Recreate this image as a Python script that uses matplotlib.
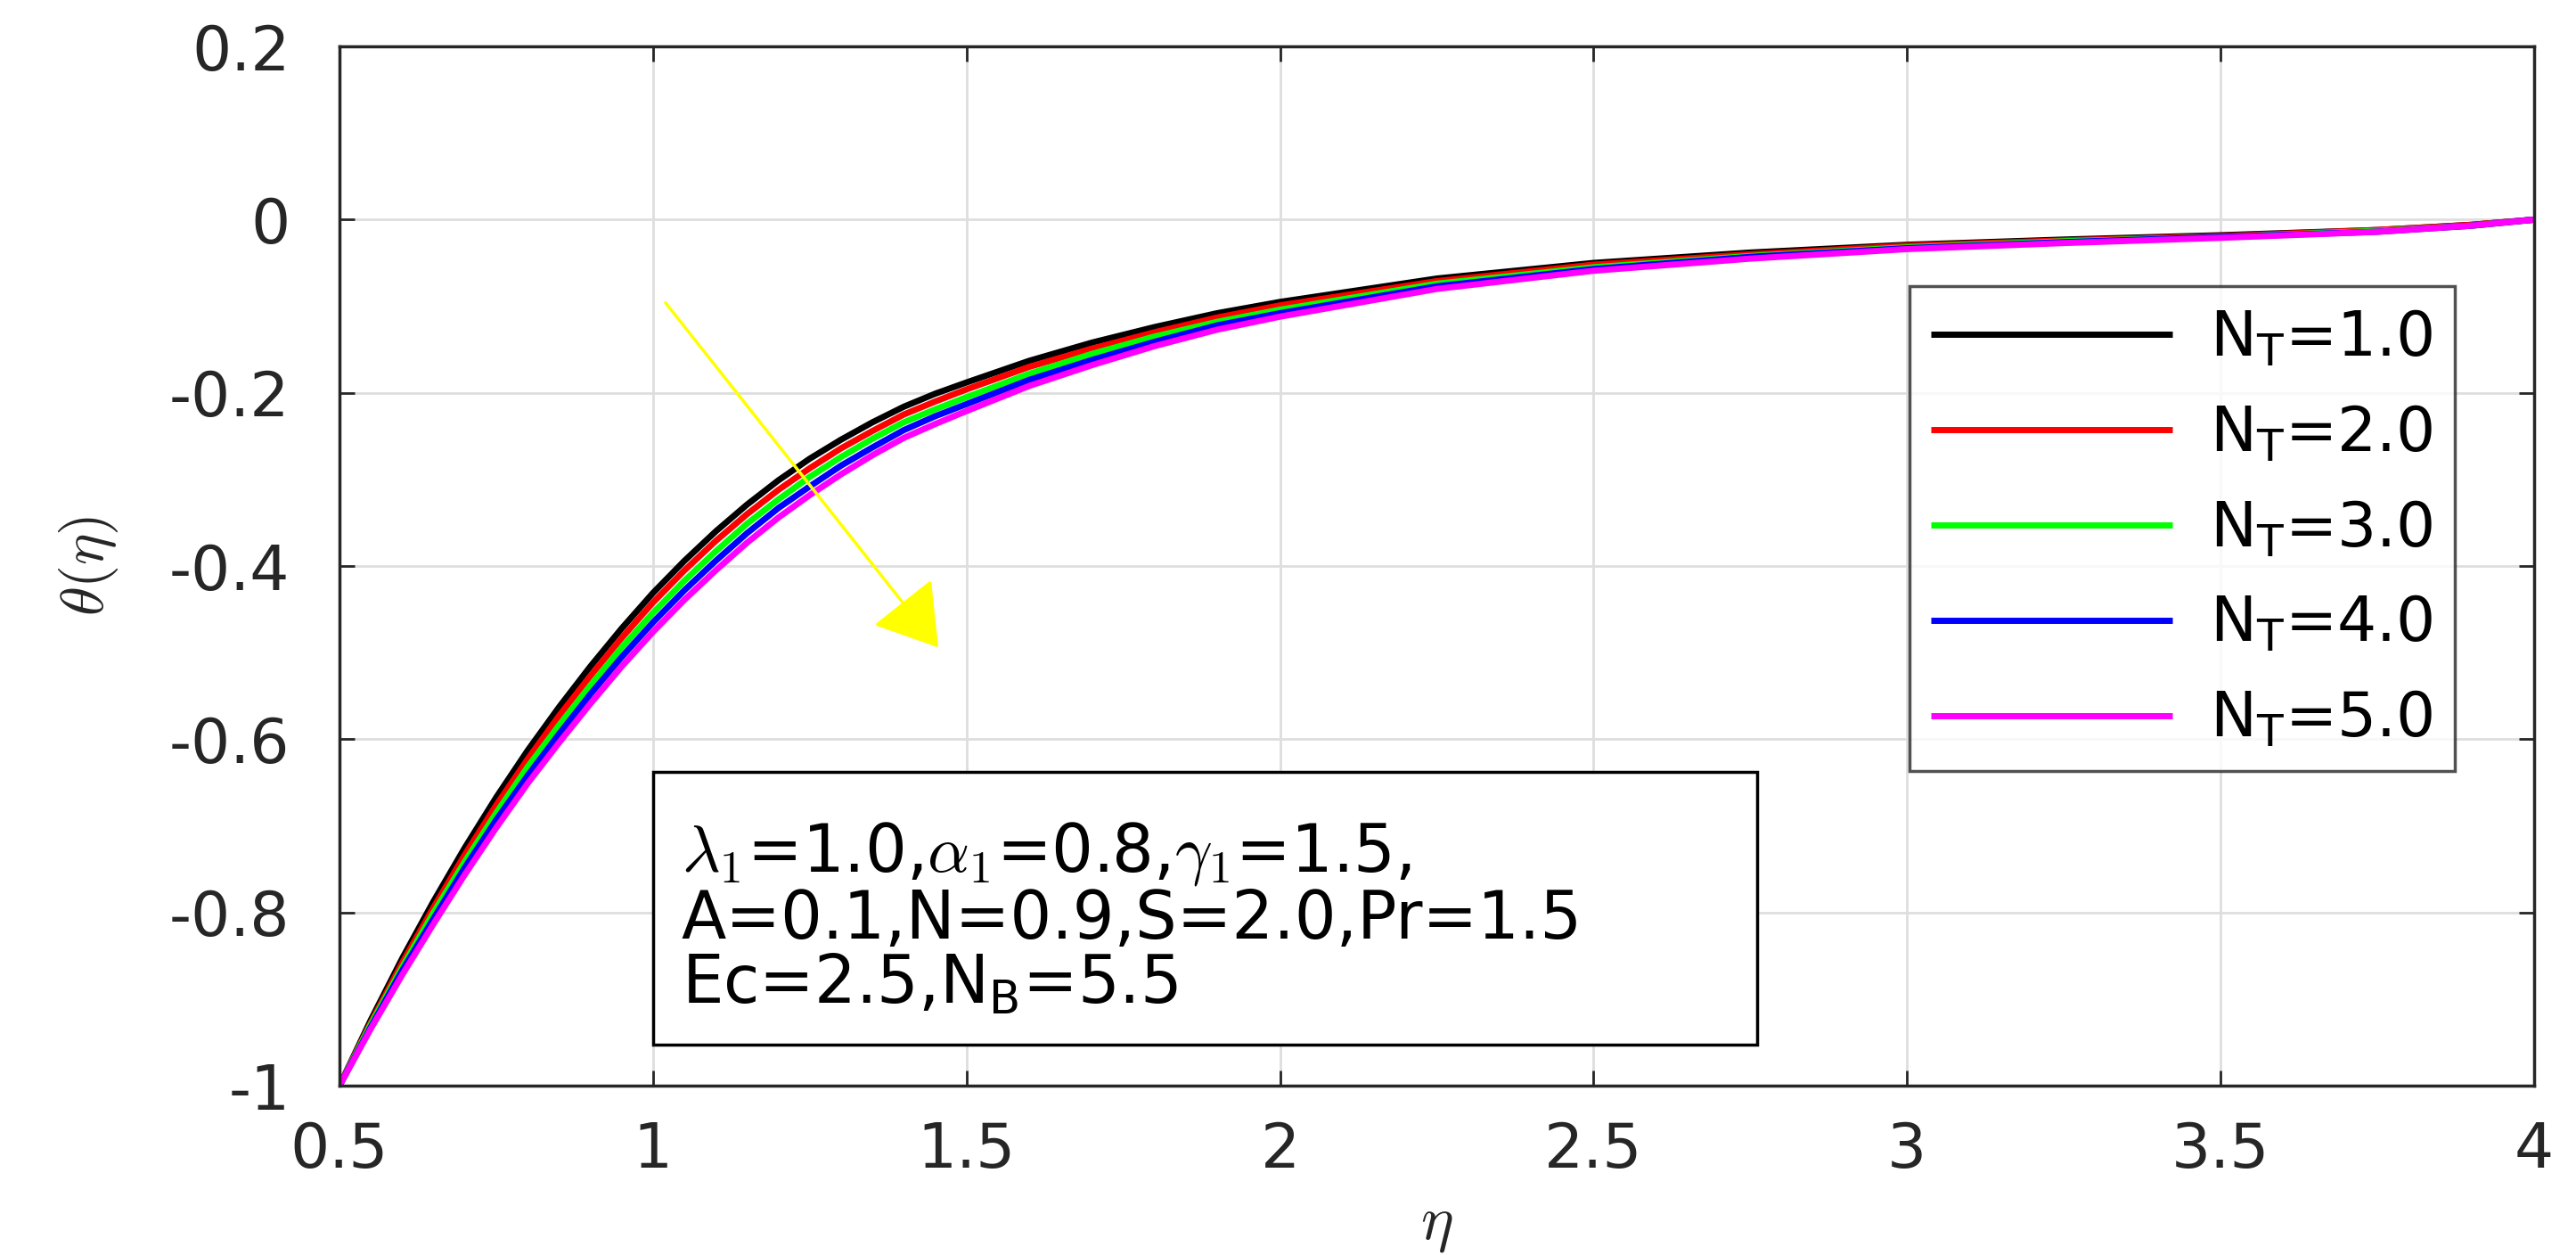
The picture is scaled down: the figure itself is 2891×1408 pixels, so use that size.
import matplotlib
matplotlib.use("Agg")
import matplotlib.pyplot as plt
from matplotlib.patches import Rectangle
from matplotlib.ticker import FormatStrFormatter

plt.rcParams['font.family'] = ['DejaVu Sans']
plt.rcParams['axes.unicode_minus'] = False

# eta positions
eta = [0.5, 0.55, 0.6, 0.65, 0.7, 0.75, 0.8, 0.85, 0.9, 0.95, 1.0, 1.05, 1.1, 1.15,
       1.2, 1.25, 1.3, 1.35, 1.4, 1.45, 1.5, 1.6, 1.7, 1.8, 1.9, 2.0, 2.25, 2.5,
       2.75, 3.0, 3.25, 3.5, 3.75, 3.9, 4.0]

theta_nt1 = [-1.000, -0.924, -0.853, -0.787, -0.725, -0.667, -0.613, -0.563, -0.516,
             -0.472, -0.431, -0.394, -0.360, -0.329, -0.301, -0.276, -0.254, -0.234,
             -0.216, -0.201, -0.188, -0.163, -0.142, -0.124, -0.108, -0.095, -0.068,
             -0.050, -0.038, -0.029, -0.023, -0.018, -0.012, -0.006, 0.000]
theta_nt2 = [-1.000, -0.927, -0.858, -0.794, -0.733, -0.676, -0.623, -0.573, -0.527,
             -0.483, -0.442, -0.405, -0.371, -0.340, -0.312, -0.287, -0.264, -0.244,
             -0.225, -0.210, -0.196, -0.170, -0.149, -0.130, -0.113, -0.099, -0.071,
             -0.052, -0.040, -0.030, -0.024, -0.019, -0.012, -0.006, 0.000]
theta_nt3 = [-1.000, -0.929, -0.863, -0.800, -0.741, -0.685, -0.632, -0.584, -0.538,
             -0.494, -0.454, -0.417, -0.383, -0.351, -0.323, -0.297, -0.274, -0.253,
             -0.234, -0.219, -0.205, -0.178, -0.155, -0.135, -0.118, -0.104, -0.074,
             -0.055, -0.042, -0.032, -0.025, -0.020, -0.013, -0.007, 0.000]
theta_nt4 = [-1.000, -0.932, -0.867, -0.807, -0.748, -0.693, -0.642, -0.594, -0.548,
             -0.505, -0.465, -0.428, -0.394, -0.362, -0.333, -0.308, -0.284, -0.263,
             -0.243, -0.227, -0.213, -0.185, -0.162, -0.141, -0.122, -0.108, -0.077,
             -0.057, -0.043, -0.033, -0.026, -0.020, -0.014, -0.007, 0.000]
theta_nt5 = [-1.000, -0.934, -0.872, -0.813, -0.756, -0.702, -0.651, -0.604, -0.559,
             -0.516, -0.476, -0.439, -0.405, -0.373, -0.344, -0.318, -0.294, -0.272,
             -0.252, -0.236, -0.221, -0.192, -0.168, -0.146, -0.127, -0.112, -0.080,
             -0.059, -0.045, -0.034, -0.027, -0.021, -0.014, -0.007, 0.000]

series = [theta_nt1, theta_nt2, theta_nt3, theta_nt4, theta_nt5]
labels = [r'N$_\mathregular{T}$=1.0', r'N$_\mathregular{T}$=2.0', r'N$_\mathregular{T}$=3.0',
          r'N$_\mathregular{T}$=4.0', r'N$_\mathregular{T}$=5.0']
colors = ['#000000', '#ff0000', '#00ff00', '#0000ff', '#ff00ff']

x_ticks = [0.5, 1, 1.5, 2, 2.5, 3, 3.5, 4]
y_ticks = [0.2, 0, -0.2, -0.4, -0.6, -0.8, -1]

box_lines = [r'$\lambda_1$=1.0,$\alpha_1$=0.8,$\gamma_1$=1.5,',
             'A=0.1,N=0.9,S=2.0,Pr=1.5',
             r'Ec=2.5,N$_\mathregular{B}$=5.5']

FS = 50
edge = '#262626'

fig = plt.figure(figsize=(28.91, 14.08), dpi=100)
ax = fig.add_axes([0.1318, 0.1349, 0.8519, 0.8281])

for vals, lab, col in zip(series, labels, colors):
    ax.plot(eta, vals, color=col, lw=5, label=lab, solid_capstyle='butt')

ax.set_xlim(0.5, 4)
ax.set_ylim(-1, 0.2)
ax.set_xticks(x_ticks)
ax.set_yticks(y_ticks)
ax.xaxis.set_major_formatter(FormatStrFormatter('%g'))
ax.yaxis.set_major_formatter(FormatStrFormatter('%g'))
ax.tick_params(direction='in', length=12, width=2, colors=edge, labelcolor='#262626',
               labelsize=FS, top=True, right=True)
ax.tick_params(axis='x', pad=28)
ax.tick_params(axis='y', pad=40)
ax.grid(True, color='#dedede', lw=2)
ax.set_axisbelow(True)
for s in ax.spines.values():
    s.set_color(edge)
    s.set_linewidth(2.5)

ax.set_xlabel(r'$\eta$', fontsize=50, math_fontfamily='cm', color='#262626')
ax.set_ylabel(r'$\theta(\eta)$', fontsize=48, math_fontfamily='cm', color='#262626')
ax.xaxis.set_label_coords(0.5, -0.105)
ax.yaxis.set_label_coords(-0.10, 0.5)

# yellow trend arrow
ax.annotate('', xy=(1.455, -0.494), xytext=(1.02, -0.096),
            arrowprops=dict(arrowstyle='-|>,head_length=0.95,head_width=0.6',
                            color='#ffff00', lw=2.5, mutation_scale=45,
                            shrinkA=0, shrinkB=0))

# parameter box
ax.add_patch(Rectangle((1.0, -0.953), 1.761, 0.315, facecolor='white',
                       edgecolor='black', lw=2.5, zorder=5))
ax.text(1.045, -0.752, box_lines[0], fontsize=53, math_fontfamily='cm', zorder=6)
ax.text(1.045, -0.830, box_lines[1], fontsize=53, zorder=6)
ax.text(1.045, -0.905, box_lines[2], fontsize=53, zorder=6)

leg = ax.legend(loc='upper left', bbox_to_anchor=(0.7154, 0.769), fontsize=FS,
                handlelength=3.9, handletextpad=0.6, labelspacing=0.57,
                borderpad=0.35, borderaxespad=0, frameon=True, fancybox=False)
leg.get_frame().set_edgecolor(edge)
leg.get_frame().set_linewidth(2.5)
for line in leg.get_lines():
    line.set_linewidth(5)

fig.savefig('out.png', dpi=100, facecolor='white')
